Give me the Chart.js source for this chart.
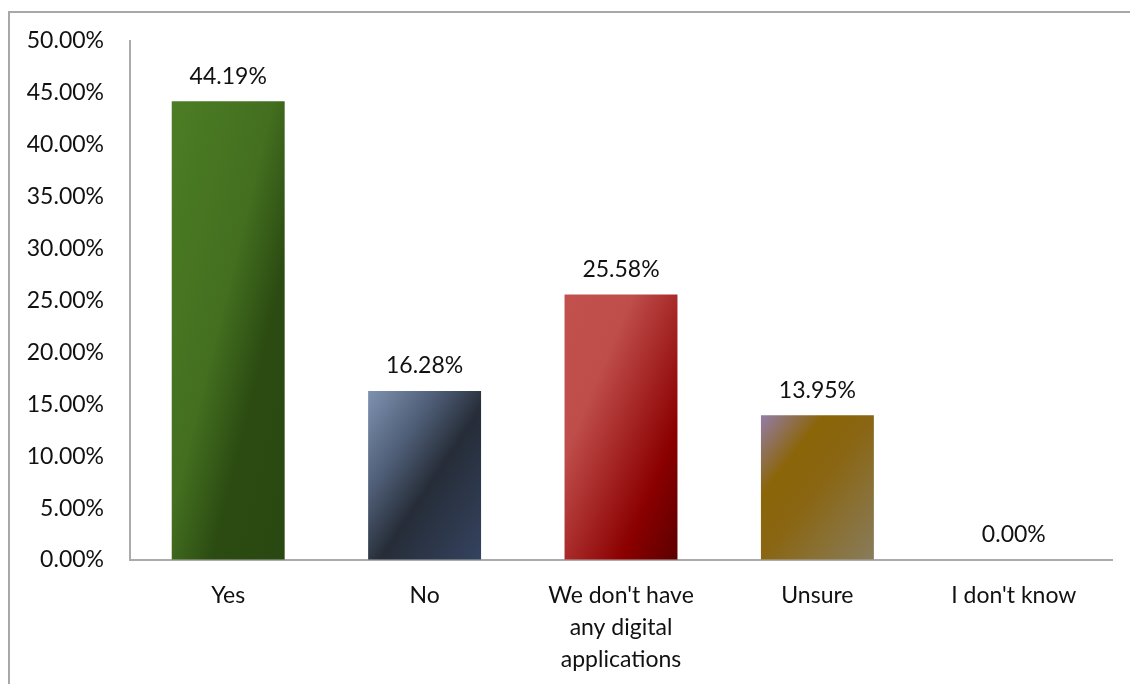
<!DOCTYPE html>
<html>
<head>
<meta charset="utf-8">
<script src="https://cdn.jsdelivr.net/npm/chart.js@4.4.0/dist/chart.umd.min.js"></script>
<style>
    body { margin: 0; background: #fff; }
    #wrap { position: relative; width: 1130px; height: 684px; overflow: hidden; }
    #frame {
        position: absolute; left: 8px; top: 11px; width: 1200px; height: 800px;
        border-left: 2px solid #a8a8a8; border-top: 2px solid #a8a8a8;
    }
    canvas { position: absolute; left: 0; top: 0; }
</style>
</head>
<body>
<div id="wrap">
    <div id="frame"></div>
    <canvas id="survey-chart" width="1130" height="684"></canvas>
</div>
<script>
const categories = ['Yes', 'No', ["We don't have", 'any digital', 'applications'], 'Unsure', "I don't know"];
const shares = [44.19, 16.28, 25.58, 13.95, 0.00];

// diagonal gradient stops for each bar (position, colour)
const barStops = [
    [[0, '#4c7d24'], [0.45, '#436f1f'], [0.68, '#2b4b12'], [1, '#2a4912']],
    [[0, '#7e92b0'], [0.3, '#505f78'], [0.55, '#262d38'], [1, '#354360']],
    [[0, '#c2514e'], [0.3, '#bf4e4b'], [0.75, '#8b0000'], [1, '#5c0000']],
    [[0, '#937ca9'], [0.28, '#8b6508'], [0.5, '#8a6613'], [1, '#887c5c']],
    [[0, '#888888'], [1, '#666666']]
];

const barPct = 0.575;
const axisColor = '#ababab';
const textColor = '#111111';
const fontFamily = 'Lato, "Open Sans", sans-serif';

// gradient whose bands run along the bar's anti-diagonal
function barGradient(context) {
    const chart = context.chart;
    const { chartArea, scales } = chart;
    if (!chartArea) return null;
    const i = context.dataIndex;
    const cx = scales.x.getPixelForValue(i);
    const w = (chartArea.width / categories.length) * barPct;
    const x0 = cx - w / 2;
    const top = scales.y.getPixelForValue(shares[i]);
    const h = Math.max(scales.y.getPixelForValue(0) - top, 1);
    const t = (2 * w * h) / (w * w + h * h);
    const g = chart.ctx.createLinearGradient(x0, top, x0 + t * h, top + t * w);
    barStops[i].forEach(([pos, col]) => g.addColorStop(pos, col));
    return g;
}

// value labels above each bar
const valueLabels = {
    id: 'valueLabels',
    afterDatasetsDraw(chart) {
        const ctx = chart.ctx;
        const meta = chart.getDatasetMeta(0);
        ctx.save();
        ctx.font = `23px ${fontFamily}`;
        ctx.fillStyle = textColor;
        ctx.textAlign = 'center';
        ctx.textBaseline = 'middle';
        meta.data.forEach((bar, i) => {
            ctx.fillText(shares[i].toFixed(2) + '%', bar.x, bar.y - 25);
        });
        ctx.restore();
    }
};

new Chart(document.getElementById('survey-chart'), {
    type: 'bar',
    data: {
        labels: categories,
        datasets: [{
            data: shares,
            backgroundColor: barGradient,
            borderWidth: 0,
            barPercentage: barPct,
            categoryPercentage: 1
        }]
    },
    options: {
        responsive: false,
        animation: false,
        layout: { padding: { top: 41, right: 18, left: 0, bottom: 0 } },
        plugins: {
            legend: { display: false },
            tooltip: { enabled: false }
        },
        scales: {
            x: {
                grid: { drawOnChartArea: false, drawTicks: false },
                border: { color: axisColor, width: 2 },
                ticks: {
                    color: textColor,
                    padding: 19,
                    maxRotation: 0,
                    font: { family: fontFamily, size: 23, lineHeight: 1.4 }
                },
                afterFit(scale) { scale.height = 124; }
            },
            y: {
                min: 0,
                max: 50,
                grid: { drawOnChartArea: false, drawTicks: false },
                border: { color: axisColor, width: 2 },
                ticks: {
                    stepSize: 5,
                    color: textColor,
                    padding: 26,
                    font: { family: fontFamily, size: 23 },
                    callback: v => v.toFixed(2) + '%'
                },
                afterFit(scale) { scale.width = 130; }
            }
        }
    },
    plugins: [valueLabels]
});
</script>
</body>
</html>
